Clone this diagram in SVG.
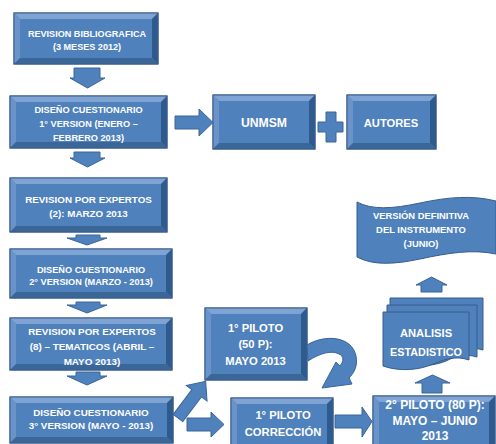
<svg xmlns="http://www.w3.org/2000/svg" width="496" height="444" viewBox="0 0 496 444">
<style>
.base{fill:#4F81BD;stroke:#385D8A;stroke-width:1}
.bt{fill:#7FA4D4}
.bl{fill:#6A93C9}
.br{fill:#2F5A8E}
.bb{fill:#3B6698}
.arr{fill:#4F81BD;stroke:#3A659A;stroke-width:1}
.t{font-family:"Liberation Sans",Arial,sans-serif;font-weight:bold;font-size:9.4px;fill:#FFFFFF;text-anchor:middle}
.tl{font-family:"Liberation Sans",Arial,sans-serif;font-weight:bold;font-size:11.2px;fill:#FFFFFF;text-anchor:middle}
</style>
<rect width="496" height="444" fill="#FFFFFF"/>

<g id="n1">
<rect class="base" x="14" y="13" width="144" height="51"/>
<polygon class="bt" points="14,13 158,13 152,19 20,19"/>
<polygon class="bl" points="14,13 20,19 20,58 14,64"/>
<polygon class="br" points="158,13 158,64 152,58 152,19"/>
<polygon class="bb" points="14,64 158,64 152,58 20,58"/>
<rect x="14" y="13" width="144" height="51" fill="none" stroke="#385D8A"/>
<text class="t" x="87" y="36.5" style="font-size:9.1px">REVISION BIBLIOGRAFICA</text>
<text class="t" x="87" y="49.5" style="font-size:9.1px">(3 MESES 2012)</text>
</g>

<g id="n2">
<rect class="base" x="10" y="96" width="157" height="52"/>
<polygon class="bt" points="10,96 167,96 161,102 16,102"/>
<polygon class="bl" points="10,96 16,102 16,142 10,148"/>
<polygon class="br" points="167,96 167,148 161,142 161,102"/>
<polygon class="bb" points="10,148 167,148 161,142 16,142"/>
<rect x="10" y="96" width="157" height="52" fill="none" stroke="#385D8A"/>
<text class="t" x="88.5" y="112.5" style="font-size:9.2px">DISEÑO CUESTIONARIO</text>
<text class="t" x="88.5" y="126.5" style="font-size:9.2px">1° VERSION (ENERO –</text>
<text class="t" x="88.5" y="140.5" style="font-size:9.2px">FEBRERO 2013)</text>
</g>

<g id="n_unmsm">
<rect class="base" x="213" y="95" width="102" height="54"/>
<polygon class="bt" points="213,95 315,95 309,101 219,101"/>
<polygon class="bl" points="213,95 219,101 219,143 213,149"/>
<polygon class="br" points="315,95 315,149 309,143 309,101"/>
<polygon class="bb" points="213,149 315,149 309,143 219,143"/>
<rect x="213" y="95" width="102" height="54" fill="none" stroke="#385D8A"/>
<text class="tl" x="264" y="126.5" style="font-size:12.2px">UNMSM</text>
</g>

<g id="n_plus">
<polygon class="arr" points="326,112 336,112 336,122 343,122 343,132 336,132 336,142 326,142 326,132 318,132 318,122 326,122"/>
</g>

<g id="n_autores">
<rect class="base" x="347" y="95" width="89" height="54"/>
<polygon class="bt" points="347,95 436,95 430,101 353,101"/>
<polygon class="bl" points="347,95 353,101 353,143 347,149"/>
<polygon class="br" points="436,95 436,149 430,143 430,101"/>
<polygon class="bb" points="347,149 436,149 430,143 353,143"/>
<rect x="347" y="95" width="89" height="54" fill="none" stroke="#385D8A"/>
<text class="tl" x="391" y="126.5">AUTORES</text>
</g>

<g id="n3">
<rect class="base" x="10" y="178" width="157" height="54"/>
<polygon class="bt" points="10,178 167,178 161,184 16,184"/>
<polygon class="bl" points="10,178 16,184 16,226 10,232"/>
<polygon class="br" points="167,178 167,232 161,226 161,184"/>
<polygon class="bb" points="10,232 167,232 161,226 16,226"/>
<rect x="10" y="178" width="157" height="54" fill="none" stroke="#385D8A"/>
<text class="t" x="88.5" y="202.5" style="font-size:9.8px">REVISION POR EXPERTOS</text>
<text class="t" x="88.5" y="216.5" style="font-size:9.8px">(2): MARZO 2013</text>
</g>

<g id="n4">
<rect class="base" x="10" y="249" width="162" height="49"/>
<polygon class="bt" points="10,249 172,249 166,255 16,255"/>
<polygon class="bl" points="10,249 16,255 16,292 10,298"/>
<polygon class="br" points="172,249 172,298 166,292 166,255"/>
<polygon class="bb" points="10,298 172,298 166,292 16,292"/>
<rect x="10" y="249" width="162" height="49" fill="none" stroke="#385D8A"/>
<text class="t" x="91" y="272.5" style="font-size:9.2px">DISEÑO CUESTIONARIO</text>
<text class="t" x="91" y="285" style="font-size:9.2px">2° VERSION (MARZO - 2013)</text>
</g>

<g id="n5">
<rect class="base" x="10" y="318" width="162" height="52"/>
<polygon class="bt" points="10,318 172,318 166,324 16,324"/>
<polygon class="bl" points="10,318 16,324 16,364 10,370"/>
<polygon class="br" points="172,318 172,370 166,364 166,324"/>
<polygon class="bb" points="10,370 172,370 166,364 16,364"/>
<rect x="10" y="318" width="162" height="52" fill="none" stroke="#385D8A"/>
<text class="t" x="92" y="334.5" style="font-size:9.9px">REVISION POR EXPERTOS</text>
<text class="t" x="92" y="349.5" style="font-size:9.9px">(8) – TEMATICOS (ABRIL –</text>
<text class="t" x="92" y="364.5" style="font-size:9.9px">MAYO 2013)</text>
</g>

<g id="n6">
<rect class="base" x="10" y="397" width="163" height="46"/>
<polygon class="bt" points="10,397 173,397 167,403 16,403"/>
<polygon class="bl" points="10,397 16,403 16,437 10,443"/>
<polygon class="br" points="173,397 173,443 167,437 167,403"/>
<polygon class="bb" points="10,443 173,443 167,437 16,437"/>
<rect x="10" y="397" width="163" height="46" fill="none" stroke="#385D8A"/>
<text class="t" x="91" y="415.5" style="font-size:9.8px">DISEÑO CUESTIONARIO</text>
<text class="t" x="91" y="429" style="font-size:9.8px">3° VERSION  (MAYO  - 2013)</text>
</g>

<g id="n_p1">
<rect class="base" x="205" y="308" width="102" height="72"/>
<polygon class="bt" points="205,308 307,308 301,314 211,314"/>
<polygon class="bl" points="205,308 211,314 211,374 205,380"/>
<polygon class="br" points="307,308 307,380 301,374 301,314"/>
<polygon class="bb" points="205,380 307,380 301,374 211,374"/>
<rect x="205" y="308" width="102" height="72" fill="none" stroke="#385D8A"/>
<text class="tl" x="255.5" y="332">1° PILOTO</text>
<text class="tl" x="255.5" y="347.5">(50 P):</text>
<text class="tl" x="255.5" y="365">MAYO 2013</text>
</g>

<g id="n_pc">
<rect class="base" x="231" y="398" width="102" height="52"/>
<polygon class="bt" points="231,398 333,398 327,404 237,404"/>
<polygon class="bl" points="231,398 237,404 237,450 231,450"/>
<polygon class="br" points="333,398 333,450 327,450 327,404"/>
<rect x="231" y="398" width="102" height="52" fill="none" stroke="#385D8A"/>
<text class="tl" x="283" y="419">1° PILOTO</text>
<text class="tl" x="283" y="436">CORRECCIÓN</text>
</g>

<g id="n_p2">
<rect class="base" x="373" y="396" width="122" height="54"/>
<polygon class="bt" points="373,396 495,396 489,402 379,402"/>
<polygon class="bl" points="373,396 379,402 379,450 373,450"/>
<polygon class="br" points="495,396 495,450 489,450 489,402"/>
<rect x="373" y="396" width="122" height="54" fill="none" stroke="#385D8A"/>
<text class="tl" x="435" y="409" style="font-size:12px">2° PILOTO (80 P):</text>
<text class="tl" x="435" y="425" style="font-size:12px">MAYO – JUNIO</text>
<text class="tl" x="435" y="440" style="font-size:12px">2013</text>
</g>

<g id="n_analisis">
<path class="base" d="M390,298 H483 V350 C470,346 460,350 452,354 C440,359 420,361 405,357 L390,352 Z"/>
<path class="base" d="M387,305 H477 V357 C464,353 454,357 446,361 C434,366 414,368 399,364 L387,359 Z"/>
<path class="base" d="M383,312 H469 V360 C455,355 443,360 433,364 C420,370 400,372 383,366 Z"/>
<text class="tl" x="426" y="337">ANALISIS</text>
<text class="tl" x="426" y="356" style="font-size:10.8px">ESTADISTICO</text>
</g>

<g id="n_version">
<path class="base" d="M357,202 C372,210 392,209 420,203 C448,197 472,195 496,201 L496,254 C472,249 448,253 420,259 C392,265 372,265 357,257 Z"/>
<text class="t" x="421" y="218.5">VERSIÓN DEFINITIVA</text>
<text class="t" x="421" y="233">DEL INSTRUMENTO</text>
<text class="t" x="421" y="246.5">(JUNIO)</text>
</g>

<g id="connectors">
<polygon class="arr" points="74,68 100,68 100,78 105,78 87.5,88 70,78 74,78"/>
<polygon class="arr" points="74,152 100,152 100,158 105,158 87.5,167 70,158 74,158"/>
<polygon class="arr" points="76,235 100,235 100,238 107,238 87,245 67,238 76,238"/>
<polygon class="arr" points="76,302 100,302 100,305 107,305 87,313 67,305 76,305"/>
<polygon class="arr" points="76,372 100,372 100,376 107,376 87,385 67,376 76,376"/>
<polygon class="arr" points="175,116 199,116 199,109 213,122.5 199,136 199,129 175,129"/>
<polygon class="arr" points="0,-6 31,-6 31,-13 46,0 31,13 31,6 0,6" transform="translate(178,418) rotate(-53)"/>
<polygon class="arr" points="187,418 211,418 211,412 224,424.5 211,437 211,431 187,431"/>
<polygon class="arr" points="335,415 362,415 362,407 372,421.5 362,437 362,428 335,428"/>
<polygon class="arr" points="422,393 442,393 442,383 450,383 432.5,375 415,383 422,383"/>
<polygon class="arr" points="421,292 442,292 442,285 447,285 431.5,277 416,285 421,285"/>
<path class="arr" d="M307,345 C325,334 352,336 356,356 C358,366 354,373 349,378 L352,384 L322,388 L336,362 L340,366 C344,361 344,356 339,354 C332,350 320,353 308,361 Z"/>
</g>
</svg>
